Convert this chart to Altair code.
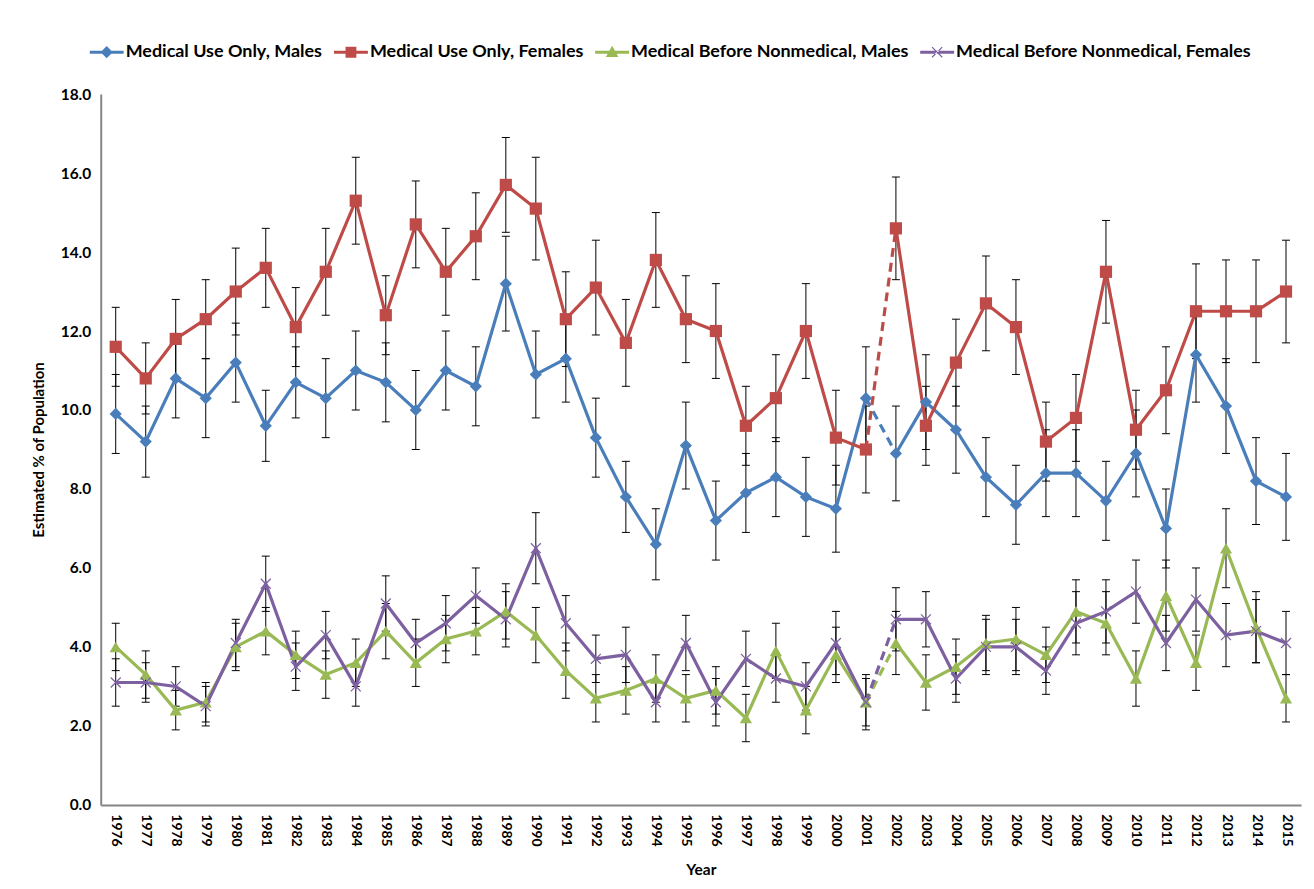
import altair as alt
import pandas as pd

years = list(range(1976, 2016))
series = [
    "Medical Use Only, Males",
    "Medical Use Only, Females",
    "Medical Before Nonmedical, Males",
    "Medical Before Nonmedical, Females",
]
colors = ["#4A7EBB", "#BE4B48", "#98B954", "#7D60A0"]

mu_m = [9.9, 9.2, 10.8, 10.3, 11.2, 9.6, 10.7, 10.3, 11.0, 10.7, 10.0, 11.0, 10.6, 13.2, 10.9, 11.3, 9.3, 7.8, 6.6, 9.1,
        7.2, 7.9, 8.3, 7.8, 7.5, 10.3, 8.9, 10.2, 9.5, 8.3, 7.6, 8.4, 8.4, 7.7, 8.9, 7.0, 11.4, 10.1, 8.2, 7.8]
mu_m_lo = [8.9, 8.3, 9.8, 9.3, 10.2, 8.7, 9.8, 9.3, 10.0, 9.7, 9.0, 10.0, 9.6, 12.0, 9.8, 10.2, 8.3, 6.9, 5.7, 8.0,
           6.2, 6.9, 7.3, 6.8, 6.4, 9.0, 7.7, 9.0, 8.4, 7.3, 6.6, 7.3, 7.3, 6.7, 7.8, 6.0, 10.2, 8.9, 7.1, 6.7]
mu_m_hi = [10.9, 10.1, 11.8, 11.3, 12.2, 10.5, 11.6, 11.3, 12.0, 11.7, 11.0, 12.0, 11.6, 14.4, 12.0, 12.4, 10.3, 8.7, 7.5, 10.2,
           8.2, 8.9, 9.3, 8.8, 8.6, 11.6, 10.1, 11.4, 10.6, 9.3, 8.6, 9.5, 9.5, 8.7, 10.0, 8.0, 12.5, 11.3, 9.3, 8.9]

mu_f = [11.6, 10.8, 11.8, 12.3, 13.0, 13.6, 12.1, 13.5, 15.3, 12.4, 14.7, 13.5, 14.4, 15.7, 15.1, 12.3, 13.1, 11.7, 13.8, 12.3,
        12.0, 9.6, 10.3, 12.0, 9.3, 9.0, 14.6, 9.6, 11.2, 12.7, 12.1, 9.2, 9.8, 13.5, 9.5, 10.5, 12.5, 12.5, 12.5, 13.0]
mu_f_lo = [10.6, 9.9, 10.8, 11.3, 11.9, 12.6, 11.1, 12.4, 14.2, 11.4, 13.6, 12.4, 13.3, 14.5, 13.8, 11.1, 11.9, 10.6, 12.6, 11.2,
           10.8, 8.6, 9.2, 10.8, 8.1, 7.9, 13.3, 8.6, 10.1, 11.5, 10.9, 8.2, 8.7, 12.2, 8.5, 9.4, 11.3, 11.2, 11.2, 11.7]
mu_f_hi = [12.6, 11.7, 12.8, 13.3, 14.1, 14.6, 13.1, 14.6, 16.4, 13.4, 15.8, 14.6, 15.5, 16.9, 16.4, 13.5, 14.3, 12.8, 15.0, 13.4,
           13.2, 10.6, 11.4, 13.2, 10.5, 10.1, 15.9, 10.6, 12.3, 13.9, 13.3, 10.2, 10.9, 14.8, 10.5, 11.6, 13.7, 13.8, 13.8, 14.3]

mb_m = [4.0, 3.3, 2.4, 2.6, 4.0, 4.4, 3.8, 3.3, 3.6, 4.4, 3.6, 4.2, 4.4, 4.9, 4.3, 3.4, 2.7, 2.9, 3.2, 2.7,
        2.9, 2.2, 3.9, 2.4, 3.8, 2.6, 4.1, 3.1, 3.5, 4.1, 4.2, 3.8, 4.9, 4.6, 3.2, 5.3, 3.6, 6.5, 4.5, 2.7]
mb_m_lo = [3.4, 2.7, 1.9, 2.1, 3.4, 3.8, 3.2, 2.7, 3.0, 3.7, 3.0, 3.6, 3.8, 4.2, 3.6, 2.7, 2.1, 2.3, 2.6, 2.1,
           2.3, 1.6, 3.2, 1.8, 3.1, 1.9, 3.3, 2.4, 2.8, 3.4, 3.4, 3.1, 4.1, 3.8, 2.5, 4.4, 2.9, 5.5, 3.6, 2.1]
mb_m_hi = [4.6, 3.9, 2.9, 3.1, 4.6, 5.0, 4.4, 3.9, 4.2, 5.1, 4.2, 4.8, 5.0, 5.6, 5.0, 4.1, 3.3, 3.5, 3.8, 3.3,
           3.5, 2.8, 4.6, 3.0, 4.5, 3.3, 4.9, 3.8, 4.2, 4.8, 5.0, 4.5, 5.7, 5.4, 3.9, 6.2, 4.3, 7.5, 5.4, 3.3]

mb_f = [3.1, 3.1, 3.0, 2.5, 4.1, 5.6, 3.5, 4.3, 3.0, 5.1, 4.1, 4.6, 5.3, 4.7, 6.5, 4.6, 3.7, 3.8, 2.6, 4.1,
        2.6, 3.7, 3.2, 3.0, 4.1, 2.6, 4.7, 4.7, 3.2, 4.0, 4.0, 3.4, 4.6, 4.9, 5.4, 4.1, 5.2, 4.3, 4.4, 4.1]
mb_f_lo = [2.5, 2.6, 2.5, 2.0, 3.5, 4.9, 2.9, 3.7, 2.5, 4.4, 3.5, 3.9, 4.6, 4.0, 5.6, 3.9, 3.1, 3.1, 2.1, 3.4,
           2.0, 3.0, 2.6, 2.4, 3.3, 2.0, 3.9, 4.0, 2.6, 3.3, 3.3, 2.8, 3.8, 4.1, 4.6, 3.4, 4.4, 3.5, 3.6, 3.3]
mb_f_hi = [3.7, 3.6, 3.5, 3.0, 4.7, 6.3, 4.1, 4.9, 3.5, 5.8, 4.7, 5.3, 6.0, 5.4, 7.4, 5.3, 4.3, 4.5, 3.1, 4.8,
           3.2, 4.4, 3.8, 3.6, 4.9, 3.2, 5.5, 5.4, 3.8, 4.7, 4.7, 4.0, 5.4, 5.7, 6.2, 4.8, 6.0, 5.1, 5.2, 4.9]

values = [mu_m, mu_f, mb_m, mb_f]
lows = [mu_m_lo, mu_f_lo, mb_m_lo, mb_f_lo]
highs = [mu_m_hi, mu_f_hi, mb_m_hi, mb_f_hi]

rows = []
line_rows = []
for s, v, lo, hi in zip(series, values, lows, highs):
    for yr, a, b, c in zip(years, v, lo, hi):
        rows.append({"series": s, "Year": yr, "value": a, "lo": b, "hi": c})
        if yr <= 2001:
            line_rows.append({"series": s, "Year": yr, "value": a, "seg": "a", "dashed": "no"})
        if yr >= 2002:
            line_rows.append({"series": s, "Year": yr, "value": a, "seg": "b", "dashed": "no"})
        if yr in (2001, 2002):
            line_rows.append({"series": s, "Year": yr, "value": a, "seg": "d", "dashed": "yes"})
df = pd.DataFrame(rows)
ldf = pd.DataFrame(line_rows)

FONT = "Lato"
YTITLE = "Estimated % of Population"

xenc = alt.X("Year:O", scale=alt.Scale(type="point", domain=years, padding=0.5),
             axis=alt.Axis(labelAngle=90, ticks=False, labelPadding=9, labelFontSize=14,
                           titleFontSize=15.5, titlePadding=16, domainColor="#868686", domainWidth=2),
             title="Year")
yscale = alt.Scale(domain=[0, 18])
yaxis = alt.Axis(values=list(range(0, 19, 2)), format=".1f", ticks=False, labelPadding=10,
                 labelFontSize=15.5, titleFontSize=15, titlePadding=14, domainColor="#868686", domainWidth=2)


def yenc(field):
    return alt.Y(field, scale=yscale, axis=yaxis, title=YTITLE)


rules = alt.Chart(df).mark_rule(color="black", strokeWidth=1).encode(
    x=xenc, y=yenc("lo:Q"), y2="hi:Q")

caps = alt.Chart(df).transform_fold(["lo", "hi"], as_=["bound", "bv"]).mark_tick(
    orient="horizontal", size=8, thickness=1, color="black", opacity=1).encode(
    x=xenc, y=yenc("bv:Q"))

line_layers = []
for i, s in enumerate(series):
    sol = alt.Chart(ldf).transform_filter(
        (alt.datum.series == s) & (alt.datum.dashed == "no")
    ).mark_line(strokeWidth=3.2, color=colors[i]).encode(x=xenc, y=yenc("value:Q"), detail="seg:N")
    das = alt.Chart(ldf).transform_filter(
        (alt.datum.series == s) & (alt.datum.dashed == "yes")
    ).mark_line(strokeWidth=3.2, color=colors[i], strokeDash=[9, 6]).encode(x=xenc, y=yenc("value:Q"))
    line_layers += [sol, das]

point_shapes = ["diamond", "square", "triangle-up", "M-1,-1L1,1M-1,1L1,-1"]
point_sizes = [150, 150, 150, 100]
point_layers = []
for i, s in enumerate(series):
    if i < 3:
        mk = alt.Chart(df).transform_filter(alt.datum.series == s).mark_point(
            shape=point_shapes[i], filled=True, size=point_sizes[i], color=colors[i], opacity=1)
    else:
        mk = alt.Chart(df).transform_filter(alt.datum.series == s).mark_point(
            shape=point_shapes[i], filled=False, size=point_sizes[i], color=colors[i],
            strokeWidth=1.2, opacity=1)
    point_layers.append(mk.encode(x=xenc, y=yenc("value:Q")))

# legend symbols: line + marker
LINE = "M-1,-0.09H1V0.09H-1Z"
a, c = 0.3, 0.025
xpath = (f"M{-a+c},{-a-c}L{a+c},{a-c}L{a-c},{a+c}L{-a-c},{-a+c}Z "
         f"M{-a+c},{a+c}L{a+c},{-a+c}L{a-c},{-a-c}L{-a-c},{a-c}Z")
legend_shapes = [
    LINE + " M0,-0.36L0.36,0L0,0.36L-0.36,0Z",
    LINE + " M-0.32,-0.32H0.32V0.32H-0.32Z",
    LINE + " M0,-0.38L0.37,0.28H-0.37Z",
    LINE + " " + xpath,
]

leg = alt.Legend(orient="none", direction="horizontal", legendX=-11, legendY=-59,
                 title=None, labelFont=FONT, labelFontWeight="bold", labelFontSize=18,
                 labelColor="black", labelLimit=500, symbolSize=1156, symbolStrokeWidth=0,
                 symbolOpacity=1, labelOffset=2, columnPadding=11)

legend_layer = alt.Chart(df).mark_point(filled=True, size=0, opacity=1).encode(
    x=xenc, y=yenc("value:Q"),
    color=alt.Color("series:N", scale=alt.Scale(domain=series, range=colors), legend=leg),
    shape=alt.Shape("series:N", scale=alt.Scale(domain=series, range=legend_shapes), legend=leg),
)

chart = alt.layer(rules, caps, *line_layers, *point_layers, legend_layer).properties(
    width=1204, height=713,
    padding={"left": 23, "top": 26, "right": 5, "bottom": 5},
).configure_view(stroke=None).configure_axis(
    grid=False, labelFont=FONT, labelFontWeight="bold", titleFont=FONT, titleFontWeight="bold",
    labelColor="black", titleColor="black",
)

chart.save("out.html", embed_options={"renderer": "svg", "actions": False})
